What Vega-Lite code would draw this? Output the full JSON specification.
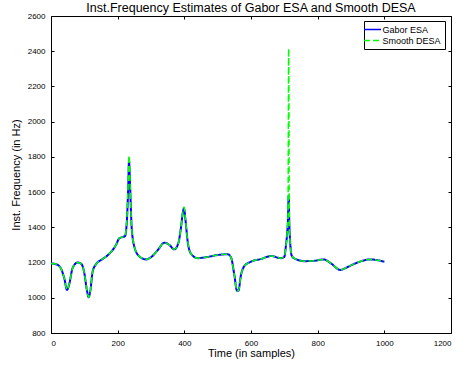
{
  "$schema": "https://vega.github.io/schema/vega-lite/v6.json",
  "autosize": "none",
  "width": 400,
  "height": 317,
  "padding": {"left": 51, "top": 16, "right": 16, "bottom": 32},
  "background": "white",
  "config": {
    "font": "Liberation Sans",
    "view": {"stroke": "black", "strokeWidth": 1},
    "axis": {
      "domain": false,
      "grid": false,
      "ticks": true,
      "tickSize": 3,
      "offset": -3,
      "tickColor": "black",
      "labelFontSize": 8,
      "labelColor": "black",
      "labelPadding": 6,
      "format": "d",
      "titleFontSize": 11,
      "titleFontWeight": "normal",
      "titleColor": "black"
    },
    "legend": {
      "labelFontSize": 9,
      "labelColor": "black"
    }
  },
  "title": {
    "text": "Inst.Frequency Estimates of Gabor ESA and Smooth DESA",
    "fontSize": 12.5,
    "fontWeight": "normal",
    "color": "black",
    "offset": -2
  },
  "datasets": {
    "gabor": [
      {"t": 0, "f": 1195}, {"t": 10, "f": 1193}, {"t": 25, "f": 1180}, {"t": 40, "f": 1110}, {"t": 48, "f": 1045},
      {"t": 55, "f": 1080}, {"t": 65, "f": 1170}, {"t": 80, "f": 1200}, {"t": 92, "f": 1190}, {"t": 100, "f": 1140},
      {"t": 108, "f": 1040}, {"t": 113, "f": 1003}, {"t": 118, "f": 1040}, {"t": 125, "f": 1150}, {"t": 135, "f": 1190},
      {"t": 155, "f": 1220}, {"t": 175, "f": 1250}, {"t": 195, "f": 1300}, {"t": 205, "f": 1338}, {"t": 215, "f": 1345},
      {"t": 222, "f": 1350}, {"t": 228, "f": 1450}, {"t": 232, "f": 1650}, {"t": 234, "f": 1780}, {"t": 237, "f": 1650},
      {"t": 242, "f": 1400}, {"t": 250, "f": 1290}, {"t": 265, "f": 1235}, {"t": 285, "f": 1218}, {"t": 300, "f": 1230},
      {"t": 320, "f": 1270}, {"t": 340, "f": 1313}, {"t": 355, "f": 1300}, {"t": 370, "f": 1275}, {"t": 382, "f": 1310},
      {"t": 390, "f": 1400}, {"t": 396, "f": 1490}, {"t": 399, "f": 1508}, {"t": 403, "f": 1450}, {"t": 410, "f": 1320},
      {"t": 420, "f": 1250}, {"t": 440, "f": 1225}, {"t": 470, "f": 1232}, {"t": 500, "f": 1243}, {"t": 530, "f": 1247},
      {"t": 540, "f": 1230}, {"t": 550, "f": 1130}, {"t": 558, "f": 1040}, {"t": 562, "f": 1040}, {"t": 570, "f": 1130},
      {"t": 580, "f": 1180}, {"t": 600, "f": 1205}, {"t": 630, "f": 1220}, {"t": 660, "f": 1237}, {"t": 690, "f": 1225},
      {"t": 700, "f": 1232}, {"t": 705, "f": 1300}, {"t": 708, "f": 1356}, {"t": 711, "f": 1450}, {"t": 713, "f": 1580},
      {"t": 715, "f": 1420}, {"t": 718, "f": 1300}, {"t": 722, "f": 1240}, {"t": 730, "f": 1224}, {"t": 760, "f": 1208},
      {"t": 790, "f": 1210}, {"t": 818, "f": 1218}, {"t": 840, "f": 1195}, {"t": 868, "f": 1158}, {"t": 890, "f": 1175},
      {"t": 918, "f": 1199}, {"t": 958, "f": 1218}, {"t": 980, "f": 1213}, {"t": 1000, "f": 1205}
    ],
    "desa": [
      {"t": 0, "f": 1195}, {"t": 10, "f": 1193}, {"t": 25, "f": 1180}, {"t": 40, "f": 1110}, {"t": 48, "f": 1045},
      {"t": 55, "f": 1080}, {"t": 65, "f": 1170}, {"t": 80, "f": 1200}, {"t": 92, "f": 1190}, {"t": 100, "f": 1140},
      {"t": 108, "f": 1040}, {"t": 113, "f": 1003}, {"t": 118, "f": 1040}, {"t": 125, "f": 1150}, {"t": 135, "f": 1190},
      {"t": 155, "f": 1220}, {"t": 175, "f": 1250}, {"t": 195, "f": 1300}, {"t": 205, "f": 1338}, {"t": 215, "f": 1345},
      {"t": 222, "f": 1350}, {"t": 228, "f": 1460}, {"t": 232, "f": 1680}, {"t": 234, "f": 1808}, {"t": 237, "f": 1660},
      {"t": 242, "f": 1400}, {"t": 250, "f": 1290}, {"t": 265, "f": 1235}, {"t": 285, "f": 1218}, {"t": 300, "f": 1230},
      {"t": 320, "f": 1270}, {"t": 340, "f": 1313}, {"t": 355, "f": 1300}, {"t": 370, "f": 1275}, {"t": 382, "f": 1310},
      {"t": 390, "f": 1400}, {"t": 396, "f": 1495}, {"t": 399, "f": 1515}, {"t": 403, "f": 1450}, {"t": 410, "f": 1320},
      {"t": 420, "f": 1250}, {"t": 440, "f": 1225}, {"t": 470, "f": 1232}, {"t": 500, "f": 1243}, {"t": 530, "f": 1247},
      {"t": 540, "f": 1230}, {"t": 550, "f": 1130}, {"t": 558, "f": 1040}, {"t": 562, "f": 1040}, {"t": 570, "f": 1130},
      {"t": 580, "f": 1180}, {"t": 600, "f": 1205}, {"t": 630, "f": 1220}, {"t": 660, "f": 1237}, {"t": 690, "f": 1225},
      {"t": 700, "f": 1232}, {"t": 705, "f": 1300}, {"t": 708, "f": 1356}, {"t": 711, "f": 1460}, {"t": 713, "f": 2415},
      {"t": 715, "f": 1420}, {"t": 718, "f": 1300}, {"t": 722, "f": 1240}, {"t": 730, "f": 1224}, {"t": 760, "f": 1208},
      {"t": 790, "f": 1210}, {"t": 818, "f": 1218}, {"t": 840, "f": 1195}, {"t": 868, "f": 1158}, {"t": 890, "f": 1175},
      {"t": 918, "f": 1199}, {"t": 958, "f": 1218}, {"t": 980, "f": 1213}, {"t": 1000, "f": 1205}
    ]
  },
  "resolve": {"axis": {"x": "independent", "y": "independent"}},
  "layer": [
    {
      "data": {"name": "gabor"},
      "transform": [{"calculate": "'Gabor ESA'", "as": "series"}],
      "mark": {"type": "line", "strokeWidth": 2, "clip": true, "interpolate": "monotone"},
      "encoding": {
        "x": {"field": "t", "type": "quantitative", "scale": {"domain": [0, 1200], "nice": false},
              "axis": {"title": "Time (in samples)", "values": [0,200,400,600,800,1000,1200], "titlePadding": 0}},
        "y": {"field": "f", "type": "quantitative", "scale": {"domain": [800, 2600], "nice": false, "zero": false},
              "axis": {"title": "Inst. Frequency (in Hz)", "values": [800,1000,1200,1400,1600,1800,2000,2200,2400,2600], "titlePadding": 6}},
        "color": {"field": "series", "type": "nominal",
                  "scale": {"domain": ["Gabor ESA", "Smooth DESA"], "range": ["#0000ff", "#00ff00"]},
                  "legend": {"title": null, "orient": "none", "legendX": 313, "legendY": 5,
                             "symbolType": "M-2,0H2", "symbolSize": 72, "symbolStrokeWidth": 1.5,
                             "fillColor": "white", "strokeColor": "black", "padding": 3.5, "rowPadding": 1,
                             "labelOffset": 5}},
        "strokeDash": {"field": "series", "type": "nominal",
                       "scale": {"domain": ["Gabor ESA", "Smooth DESA"], "range": [[1, 0], [6, 3]]},
                       "legend": {"title": null, "orient": "none", "legendX": 313, "legendY": 5,
                             "symbolType": "M-2,0H2", "symbolSize": 72, "symbolStrokeWidth": 1.5,
                             "fillColor": "white", "strokeColor": "black", "padding": 3.5, "rowPadding": 1,
                             "labelOffset": 5}}
      }
    },
    {
      "data": {"name": "desa"},
      "transform": [{"calculate": "'Smooth DESA'", "as": "series"}],
      "mark": {"type": "line", "strokeWidth": 1.5, "clip": true, "interpolate": "monotone"},
      "encoding": {
        "x": {"field": "t", "type": "quantitative", "axis": {"orient": "top", "labels": false, "title": null, "values": [0,200,400,600,800,1000,1200]}},
        "y": {"field": "f", "type": "quantitative", "axis": {"orient": "right", "labels": false, "title": null, "values": [800,1000,1200,1400,1600,1800,2000,2200,2400,2600]}},
        "color": {"field": "series", "type": "nominal"},
        "strokeDash": {"field": "series", "type": "nominal"}
      }
    }
  ]
}
